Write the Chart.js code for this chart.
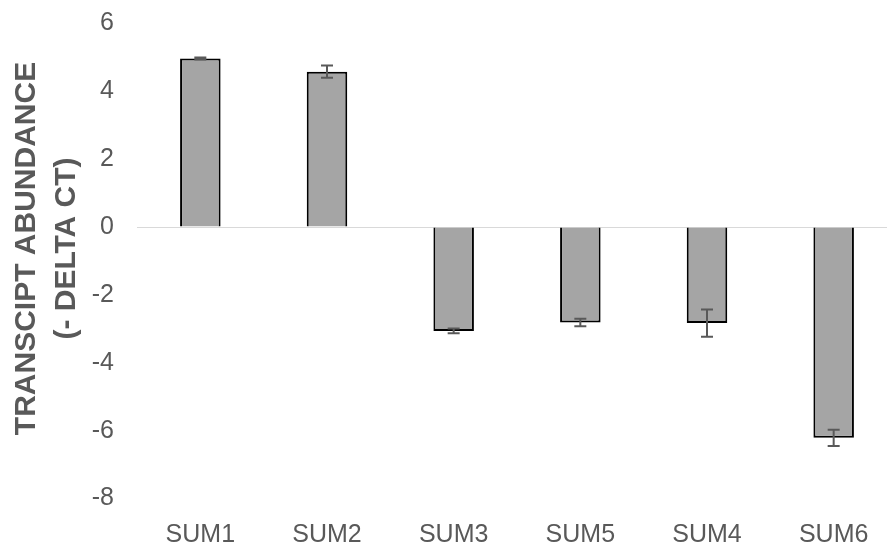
<!DOCTYPE html>
<html lang="en">
<head>
    <meta charset="UTF-8">
    <title>Transcript abundance</title>
    <script src="https://cdn.jsdelivr.net/npm/chart.js"></script>
    <style>
        html, body { margin: 0; padding: 0; background: #fff; overflow: hidden; }
        #wrap { width: 887px; height: 549px; overflow: hidden; }
        #wrap div { width: 897px; height: 549px; }
    </style>
</head>
<body>
    <div id="wrap"><div><canvas id="chart"></canvas></div></div>

    <script>
        const genes = ["SUM1", "SUM2", "SUM3", "SUM5", "SUM4", "SUM6"];
        const deltaCt = [4.97, 4.58, -3.06, -2.81, -2.83, -6.21];
        const errors = [0.03, 0.18, 0.07, 0.11, 0.4, 0.24];
        const yTitle = ["   TRANSCIPT ABUNDANCE", "   (- DELTA CT)"];

        const grey = "#595959";

        // error bars drawn on top of the bars through the y scale
        const errorBars = {
            id: "errorBars",
            afterDatasetsDraw(chart) {
                const ctx = chart.ctx;
                const y = chart.scales.y;
                const meta = chart.getDatasetMeta(0);
                ctx.save();
                ctx.strokeStyle = grey;
                ctx.lineWidth = 2;
                meta.data.forEach((bar, i) => {
                    const x = bar.x;
                    const hi = y.getPixelForValue(deltaCt[i] + errors[i]);
                    const lo = y.getPixelForValue(deltaCt[i] - errors[i]);
                    ctx.beginPath();
                    ctx.moveTo(x, hi);
                    ctx.lineTo(x, lo);
                    ctx.moveTo(x - 6, hi);
                    ctx.lineTo(x + 6, hi);
                    ctx.moveTo(x - 6, lo);
                    ctx.lineTo(x + 6, lo);
                    ctx.stroke();
                });
                ctx.restore();
            }
        };

        new Chart(document.getElementById("chart"), {
            type: "bar",
            data: {
                labels: genes,
                datasets: [{
                    data: deltaCt,
                    backgroundColor: "#a5a5a5",
                    borderColor: "#000",
                    borderWidth: 2,
                    barPercentage: 0.32,
                    categoryPercentage: 1
                }]
            },
            options: {
                responsive: true,
                maintainAspectRatio: false,
                animation: false,
                layout: { padding: { top: 23.5, right: 0, left: 0, bottom: 0 } },
                plugins: { legend: { display: false }, tooltip: { enabled: false } },
                scales: {
                    x: {
                        grid: { display: false },
                        border: { display: false },
                        ticks: {
                            color: grey,
                            padding: 14,
                            font: { family: "Liberation Sans", size: 25 }
                        },
                        afterFit(scale) { scale.height = 50.5; }
                    },
                    y: {
                        min: -8,
                        max: 6,
                        ticks: {
                            stepSize: 2,
                            color: grey,
                            padding: 23,
                            font: { family: "Liberation Sans", size: 25 }
                        },
                        grid: {
                            drawTicks: false,
                            color: (c) => c.tick && c.tick.value === 0 ? "#d9d9d9" : "transparent"
                        },
                        border: { display: false },
                        title: {
                            display: true,
                            text: yTitle,
                            color: grey,
                            padding: { top: 6, bottom: 0 },
                            font: { family: "Liberation Sans", size: 30, weight: "bold", lineHeight: 1.35 }
                        },
                        afterFit(scale) {
                            scale.width = 137;
                            scale.paddingTop = 0;
                            scale.paddingBottom = 0;
                        }
                    }
                }
            },
            plugins: [errorBars]
        });
    </script>
</body>
</html>
